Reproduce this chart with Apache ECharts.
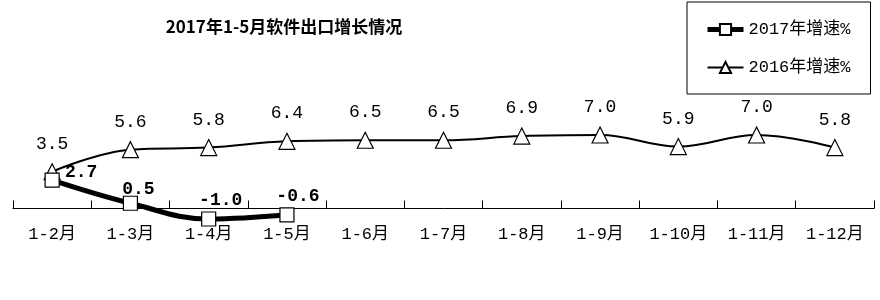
<!DOCTYPE html>
<html><head><meta charset="utf-8">
<script src="https://cdn.jsdelivr.net/npm/echarts@6/dist/echarts.min.js"></script>
<style>html,body{margin:0;padding:0;background:#fff}#c{width:880px;height:300px}</style>
</head><body><div id="c"></div>
<script>
const categories = ['1-2月','1-3月','1-4月','1-5月','1-6月','1-7月','1-8月','1-9月','1-10月','1-11月','1-12月'];
const growth2017 = [2.7, 0.5, -1.0, -0.6];
const growth2016 = [3.5, 5.6, 5.8, 6.4, 6.5, 6.5, 6.9, 7.0, 5.9, 7.0, 5.8];
const seriesNames = ['2017年增速%', '2016年增速%'];
const titleText = '2017年1-5月软件出口增长情况';

const FONT = "'Liberation Mono', 'Noto Sans CJK SC', monospace";
const label2017Offsets = [[29,-8],[8,-14],[12,-19],[11,-18]];

const chart = echarts.init(document.getElementById('c'), null, {renderer:'canvas'});
chart.setOption({
  backgroundColor:'#fff',
  animation:false,
  title:{
    text:titleText, left:279, top:13, textAlign:'center',
    textStyle:{fontFamily:"'Noto Sans CJK SC', sans-serif", fontWeight:'bold', fontSize:17, color:'#000'}
  },
  legend:{
    orient:'vertical', left:687, top:2,
    padding:[19,20,18,18], itemGap:21,
    borderColor:'#000', borderWidth:1,
    itemWidth:36, itemHeight:14,
    textStyle:{fontFamily:FONT, fontSize:17, color:'#000'},
    data:[
      {name:seriesNames[0], lineStyle:{width:5, color:'#000'}},
      {name:seriesNames[1], lineStyle:{width:2, color:'#000'}}
    ]
  },
  grid:{left:13, right:6, top:124.5, bottom:60},
  xAxis:{
    type:'category', data:categories, boundaryGap:true, offset:-31.5,
    axisLine:{onZero:false, lineStyle:{color:'#000', width:1}},
    axisTick:{show:true, inside:true, length:8, lineStyle:{color:'#000', width:1}},
    axisLabel:{margin:18, color:'#000', fontFamily:FONT, fontSize:17}
  },
  yAxis:{type:'value', min:-3, max:8, show:false, splitLine:{show:false}},
  series:[
    {
      name:seriesNames[0], type:'line', smooth:0.4,
      data: growth2017.map((v,i)=>({value:v, label:{offset:label2017Offsets[i]}})),
      symbol:'rect', symbolSize:14,
      itemStyle:{color:'#fff', borderColor:'#000', borderWidth:1.2},
      lineStyle:{color:'#000', width:5},
      label:{show:true, position:'inside', fontFamily:FONT, fontWeight:'bold', fontSize:18, color:'#000',
        formatter:p=>Number(p.value).toFixed(1)},
      z:3
    },
    {
      name:seriesNames[1], type:'line', smooth:0.4,
      data: growth2016,
      symbol:'triangle', symbolSize:16,
      itemStyle:{color:'#fff', borderColor:'#000', borderWidth:1.2},
      lineStyle:{color:'#000', width:2},
      label:{show:true, position:'top', distance:10, fontFamily:FONT, fontSize:18, color:'#000',
        formatter:p=>Number(p.value).toFixed(1)},
      z:2
    }
  ]
});
</script></body></html>
